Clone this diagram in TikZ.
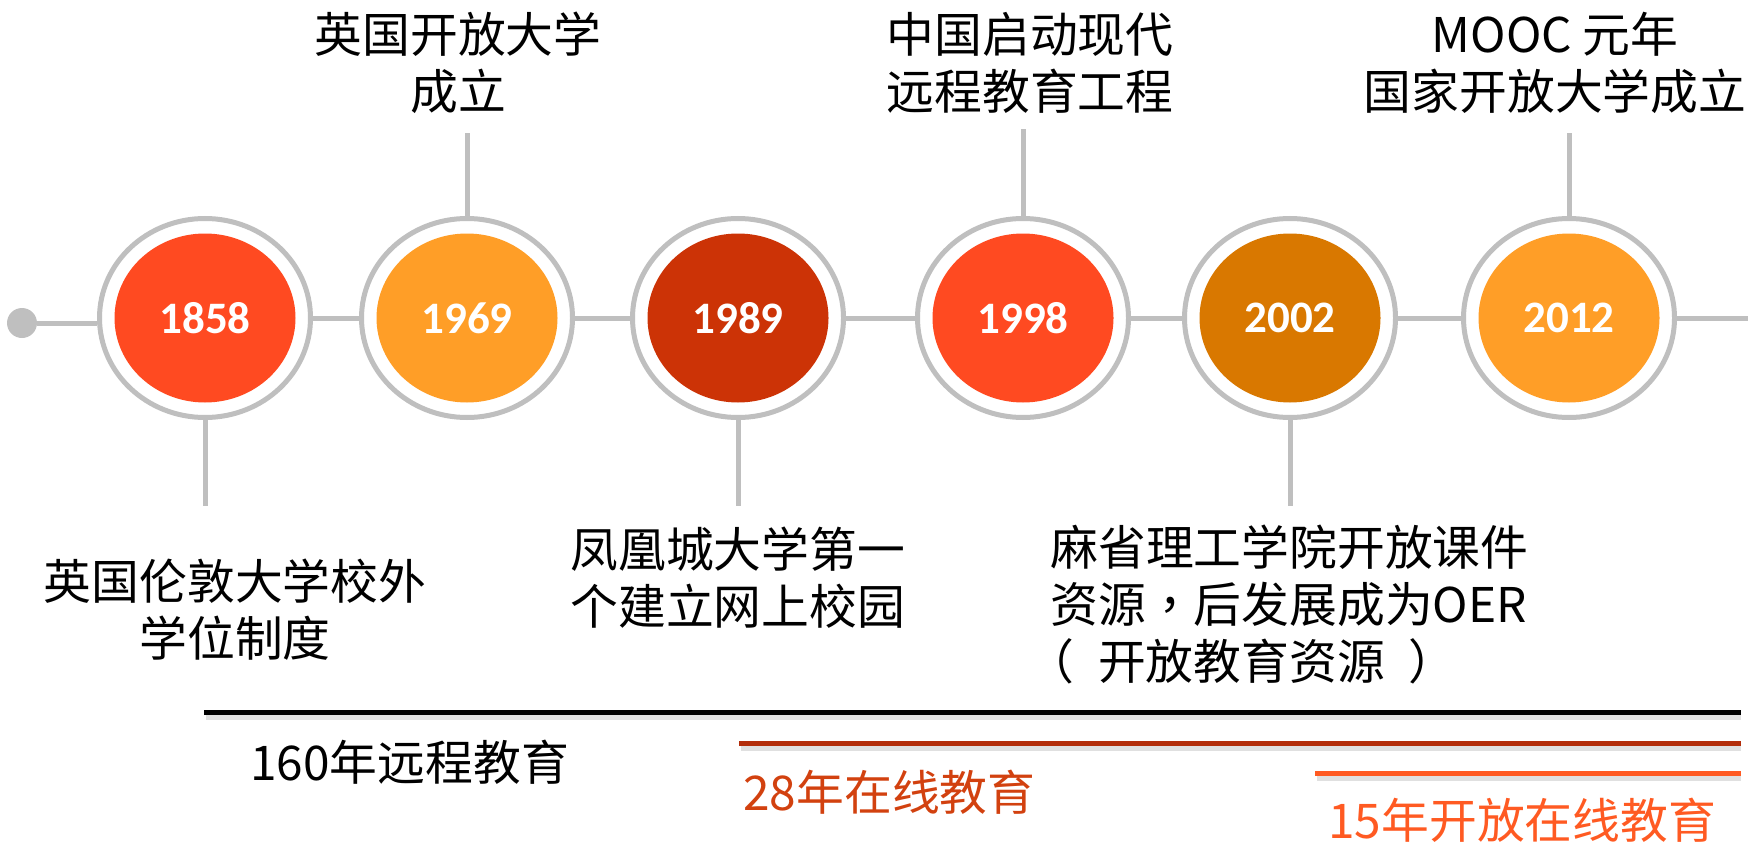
\documentclass[tikz,border=0pt]{standalone}
\usepackage{fontspec}
\usetikzlibrary{shapes.geometric}
\setmainfont{Noto Sans CJK SC}
\newfontfamily\yearfont{Carlito}
\newfontfamily\punctfont{Noto Sans CJK TC}
\newcommand{\lparen}{\makebox[1em][l]{\kern-0.5em （}}
\newcommand{\rparen}{\makebox[1em][l]{\kern0.5em ）}}
\definecolor{ringgray}{HTML}{BFBFBF}
\definecolor{hotred}{HTML}{FF4A21}
\definecolor{amber}{HTML}{FF9E27}
\definecolor{brick}{HTML}{CC3306}
\definecolor{ochre}{HTML}{D97800}
\definecolor{rust}{HTML}{B32D0A}
\definecolor{rusttext}{HTML}{D2410F}
\definecolor{flame}{HTML}{FF5A22}
\begin{document}
\begin{tikzpicture}
            [x=0.5pt,y=-0.5pt,every node/.style={inner sep=0pt},
             ring/.style={ellipse,draw=ringgray,line width=2.5pt,fill=white,minimum width=105.5pt,minimum height=99.5pt},
             year/.style={ellipse,fill=#1,minimum width=90.5pt,minimum height=84.5pt,text=white,font=\yearfont\bfseries\fontsize{22.5}{27}\selectfont},
             stem/.style={draw=ringgray,line width=2.5pt},
             note/.style={font=\fontsize{23.9}{28.5}\selectfont},
             bar/.style={line width=2.5pt},
             barshadow/.style={line width=2.5pt,black!12}]
            \useasboundingbox (0,0) rectangle (1748,845);

            \foreach \yr/\px/\col in {1858/205/hotred, 1969/467/amber, 1989/738/brick, 1998/1023/hotred, 2002/1290/ochre, 2012/1569/amber}
            {
                \node[ring] (r\yr) at (\px,318) {};
                \node[year=\col] (y\yr) at (\px,318) {\yr};
            }
            \node[circle,fill=ringgray,minimum size=15pt] (start) at (22,323) {};
            \coordinate (tail) at (1748,318);

            \coordinate (s1858) at (205,506);
            \coordinate (s1969) at (467,133);
            \coordinate (s1989) at (738,506);
            \coordinate (s1998) at (1023,129);
            \coordinate (s2002) at (1290,506);
            \coordinate (s2012) at (1569,133);

            \draw[stem] (start) -- (start -| r1858.west);
            \foreach \from/\to in {r1858/r1969, r1969/r1989, r1989/r1998, r1998/r2002, r2002/r2012, r2012/tail} \draw[stem] (\from) -- (\to);
            \foreach \yr in {1858,1969,1989,1998,2002,2012} \draw[stem] (r\yr) -- (s\yr);

            \node[note,align=center] (t1969) at (458,63) {英国开放大学\\成立};
            \node[note,align=center] (t1998) at (1030,63) {中国启动现代\\远程教育工程};
            \node[note,align=center] (t2012) at (1555,63) {MOOC 元年\\国家开放大学成立};
            \node[note,align=center] (t1858) at (235,610) {英国伦敦大学校外\\学位制度};
            \node[note,align=left,anchor=west] (t1989) at (570,578) {凤凰城大学第一\\个建立网上校园};
            \node[note,align=left,anchor=west] (t2002) at (1050,604) {麻省理工学院开放课件\\资源{\punctfont ，}后发展成为OER\\\lparen 开放教育资源\rparen};

            % spans
            \draw[barshadow] (206,717) -- (1741,717);
            \draw[bar,black] (204,712) -- (1741,712);
            \draw[barshadow] (741,748) -- (1741,748);
            \draw[bar,rust] (739,743) -- (1741,743);
            \draw[barshadow] (1317,778) -- (1741,778);
            \draw[bar,flame] (1315,773) -- (1741,773);
            \node[note,anchor=west] (l160) at (250,762) {160年远程教育};
            \node[note,anchor=west,text=rusttext] (l28) at (743,792) {28年在线教育};
            \node[note,anchor=west,text=flame] (l15) at (1328,820) {15年开放在线教育};
        \end{tikzpicture}
\end{document}
